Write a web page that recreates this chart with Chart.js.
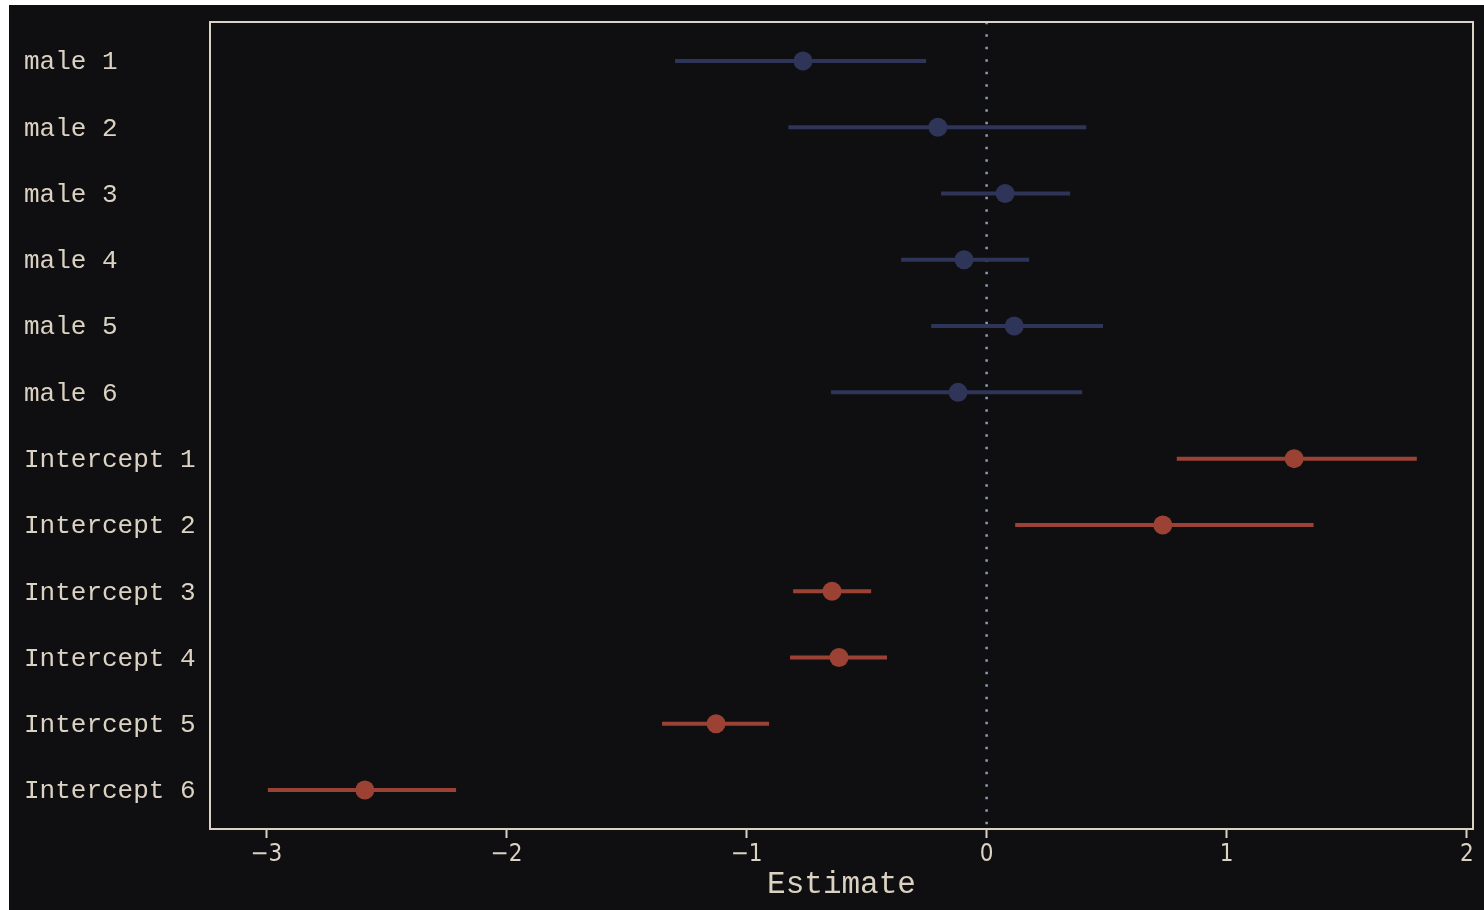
<!DOCTYPE html>
<html>
<head>
<meta charset="utf-8">
<script src="https://cdn.jsdelivr.net/npm/chart.js@4/dist/chart.umd.min.js"></script>
<style>
  html, body { margin: 0; padding: 0; background: #ffffff; }
  canvas { display: block; }
</style>
</head>
<body>
<canvas id="forest" width="1484" height="910"></canvas>
<script>
// etiquetas de las filas (de arriba hacia abajo)
const rowLabels = ["male 1", "male 2", "male 3", "male 4", "male 5", "male 6",
  "Intercept 1", "Intercept 2", "Intercept 3", "Intercept 4", "Intercept 5", "Intercept 6"];
// grupo de cada fila (define el color)
const rowGroups = ["male", "male", "male", "male", "male", "male",
  "Intercept", "Intercept", "Intercept", "Intercept", "Intercept", "Intercept"];
// estimaciones puntuales
const estimates = [-0.765, -0.203, 0.077, -0.094, 0.115, -0.119,
  1.281, 0.734, -0.644, -0.615, -1.127, -2.59];
// límites inferior y superior del intervalo
const lower = [-1.298, -0.826, -0.19, -0.356, -0.231, -0.648,
  0.792, 0.119, -0.806, -0.819, -1.352, -2.994];
const upper = [-0.252, 0.415, 0.348, 0.177, 0.485, 0.398,
  1.792, 1.362, -0.481, -0.415, -0.906, -2.21];
// ticks del eje x
const xTicks = [-3, -2, -1, 0, 1, 2];

const groupColors = { male: "#2f3559", Intercept: "#9b4235" };
const ink = "#dcd2c3";

// fondo y marco del panel
const panelPlugin = {
  id: "panel",
  beforeDraw(chart) {
    const ctx = chart.ctx;
    ctx.save();
    ctx.fillStyle = "#ffffff";
    ctx.fillRect(0, 0, chart.width, chart.height);
    ctx.fillStyle = "#0f0f11";
    ctx.fillRect(9, 5, chart.width - 9, chart.height - 5);
    ctx.restore();
  },
  afterDraw(chart) {
    const a = chart.chartArea;
    const ctx = chart.ctx;
    ctx.save();
    ctx.strokeStyle = ink;
    ctx.lineWidth = 2;
    ctx.strokeRect(a.left, a.top, a.right - a.left, a.bottom - a.top);
    ctx.restore();
  }
};

// línea punteada en cero
const zeroLine = {
  type: "line",
  data: [{ x: 0, y: -0.59 }, { x: 0, y: rowLabels.length - 1 + 0.59 }],
  borderColor: "#8a9cb6",
  borderWidth: 2.5,
  borderDash: [2.5, 10],
  pointRadius: 0,
  order: 3
};

// intervalos, uno por fila
const intervalSets = rowLabels.map((label, i) => ({
  type: "line",
  data: [{ x: lower[i], y: i }, { x: upper[i], y: i }],
  borderColor: groupColors[rowGroups[i]],
  borderWidth: 4,
  pointRadius: 0,
  order: 2
}));

// puntos
const pointSet = {
  type: "scatter",
  data: estimates.map((v, i) => ({ x: v, y: i })),
  pointRadius: 9.5,
  pointHoverRadius: 9.5,
  pointBorderWidth: 0,
  pointBackgroundColor: rowGroups.map(g => groupColors[g]),
  order: 1
};

new Chart(document.getElementById("forest"), {
  type: "scatter",
  data: { datasets: [zeroLine, ...intervalSets, pointSet] },
  plugins: [panelPlugin],
  options: {
    responsive: false,
    animation: false,
    layout: { padding: { top: 22, right: 11, left: 24, bottom: 0 } },
    plugins: { legend: { display: false }, tooltip: { enabled: false } },
    scales: {
      x: {
        type: "linear",
        min: -3.235,
        max: 2.026,
        afterFit(scale) { scale.height = 81; },
        afterBuildTicks(scale) { scale.ticks = xTicks.map(v => ({ value: v })); },
        border: { display: false },
        grid: { drawOnChartArea: false, drawTicks: true, tickLength: 9, tickWidth: 2, tickColor: ink },
        ticks: {
          color: ink,
          padding: 2,
          maxRotation: 0,
          font: { family: "'DejaVu Sans Condensed', 'Liberation Sans Narrow', sans-serif", size: 24 },
          callback: v => String(v).replace("-", "\u2212")
        },
        title: {
          display: true,
          text: "Estimate",
          color: ink,
          padding: { top: 0, bottom: 7 },
          font: { family: "'Liberation Mono', monospace", size: 31 }
        }
      },
      y: {
        type: "linear",
        reverse: true,
        min: -0.588,
        max: rowLabels.length - 1 + 0.588,
        afterFit(scale) { scale.width = 186; },
        afterBuildTicks(scale) { scale.ticks = rowLabels.map((_, i) => ({ value: i })); },
        border: { display: false },
        grid: { display: false },
        ticks: {
          color: ink,
          crossAlign: "far",
          labelOffset: 1.5,
          font: { family: "'Liberation Mono', monospace", size: 26 },
          callback: v => rowLabels[v]
        }
      }
    }
  }
});
</script>
</body>
</html>
